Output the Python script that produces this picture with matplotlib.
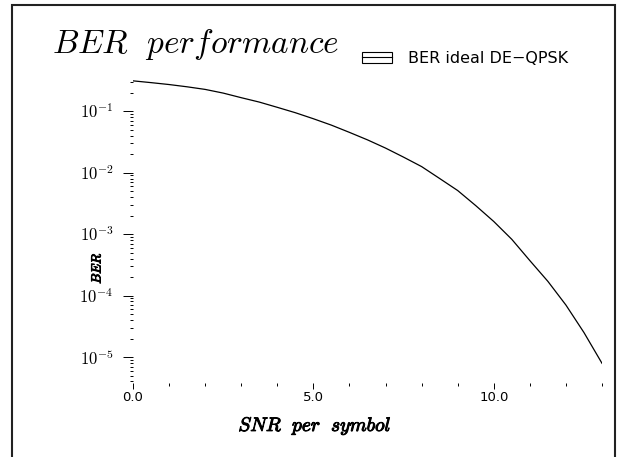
import matplotlib
matplotlib.use("Agg")
import matplotlib.pyplot as plt
import matplotlib.patheffects as pe
from matplotlib.patches import Rectangle, Patch
from matplotlib.lines import Line2D
from matplotlib.legend_handler import HandlerTuple
from matplotlib.ticker import (LogLocator, MultipleLocator, FixedLocator,
                               FuncFormatter)
import numpy as np

plt.rcParams['mathtext.fontset'] = 'cm'

# SNR per symbol (dB) and the BER
snr = [0, 0.5, 1, 1.5, 2, 2.5, 3, 3.5, 4, 4.5, 5, 5.5, 6, 6.5, 7, 7.5,
       8, 8.5, 9, 9.5, 10, 10.5, 11, 11.5, 12, 12.5, 13]
ber = [0.31, 0.29, 0.27, 0.248, 0.225, 0.196, 0.165, 0.14, 0.115, 0.094,
       0.075, 0.059, 0.045, 0.034, 0.025, 0.0178, 0.0125, 0.0080, 0.0051,
       0.0029, 0.0016, 8.2e-4, 3.7e-4, 1.7e-4, 7.0e-5, 2.5e-5, 7.9e-6]

x_major = [0.0, 5.0, 10.0]
x_major_labels = ['0.0', '5.0', '10.0']
series_label = 'BER ideal DE\u2212QPSK'

W, H = 621, 457
fig = plt.figure(figsize=(W / 100, H / 100), dpi=100)
ax = fig.add_axes([133 / W, 1 - 383 / H, (602 - 133) / W, (383 - 80) / H])

ax.semilogy(snr, ber, color='black', lw=0.9)
ax.set_xlim(0, 13)
ax.set_ylim(3.78e-6, 0.32)

for s in ax.spines.values():
    s.set_visible(False)

ax.xaxis.set_major_locator(FixedLocator(x_major))
ax.set_xticklabels(x_major_labels, fontsize=9.5, family='DejaVu Sans')
ax.xaxis.set_minor_locator(MultipleLocator(1.0))
ax.yaxis.set_major_locator(LogLocator(base=10, numticks=20))
ax.yaxis.set_minor_locator(LogLocator(base=10, subs=range(2, 10), numticks=20))
ax.yaxis.set_major_formatter(
    FuncFormatter(lambda v, p: r'$10^{%d}$' % int(round(np.log10(v)))))

ax.tick_params(axis='x', which='major', direction='out', length=4.5,
               width=0.7, pad=1.5)
ax.tick_params(axis='x', which='minor', direction='out', length=1.8,
               width=0.7)
ax.tick_params(axis='y', which='major', direction='out', length=7.2,
               width=0.7, pad=7, labelsize=12)
ax.tick_params(axis='y', which='minor', direction='out', length=2,
               width=0.7)

bold = [pe.withStroke(linewidth=0.7, foreground='black')]
fig.text(315 / W, 1 - 426 / H, r'$SNR\ \ per\ \ symbol$', ha='center',
         va='center', fontsize=14, path_effects=bold)
fig.text(97 / W, 1 - 268 / H, r'$BER$', ha='center', va='center',
         rotation=90, fontsize=9.5, path_effects=bold)
fig.text(52 / W, 1 - 53 / H, r'$BER\ \ performance$', ha='left',
         va='baseline', fontsize=24)

handle = (Patch(facecolor='none', edgecolor='black', lw=0.8),
          Line2D([], [], color='black', lw=0.8))
fig.legend([handle], [series_label],
           handler_map={tuple: HandlerTuple(ndivide=1)},
           loc='center left', bbox_to_anchor=(362 / W, 1 - 58.5 / H),
           bbox_transform=fig.transFigure, borderpad=0, borderaxespad=0,
           frameon=False, prop={'family': 'DejaVu Sans', 'size': 11.5},
           handlelength=1.88, handleheight=0.69, handletextpad=1.0)

frame = Rectangle((12 / W, -0.1), (615 - 12) / W, 1.1 - 5 / H,
                  transform=fig.transFigure, fill=False,
                  edgecolor='#222222', lw=1.5)
fig.patches.append(frame)

fig.savefig('out.png', dpi=100)
